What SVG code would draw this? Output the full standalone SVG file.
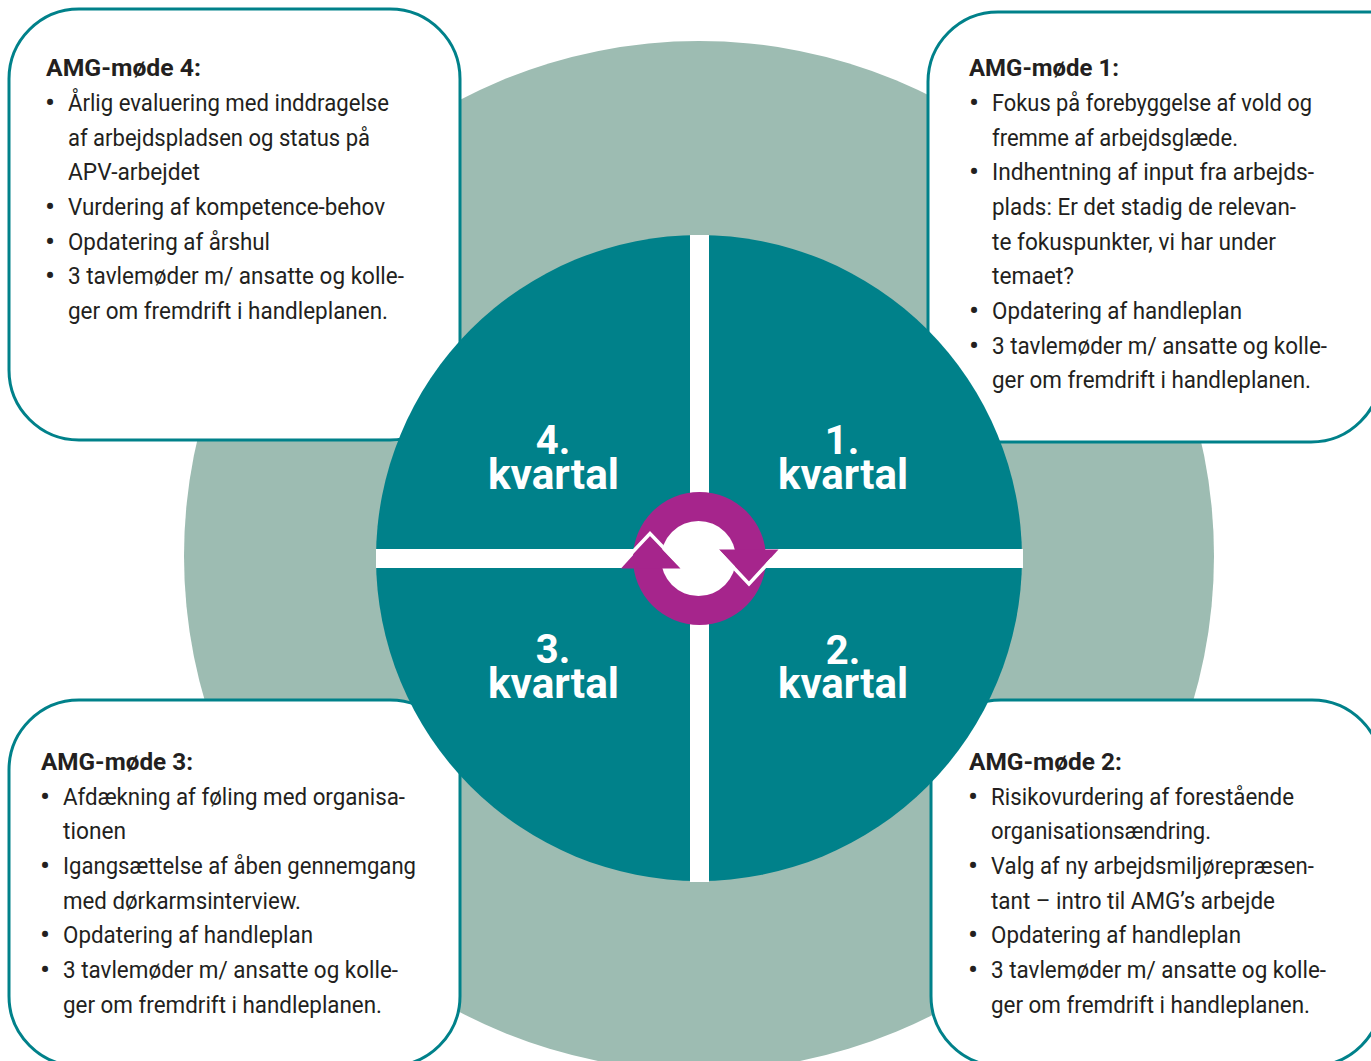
<svg xmlns="http://www.w3.org/2000/svg" width="1371" height="1061" viewBox="0 0 1371 1061">
<style>
text{font-family:"Roboto","Liberation Sans",sans-serif;fill:#231f20;font-size:23.5px}
.h{font-weight:700}
.b{text-anchor:middle;font-size:30px}
.q{font-weight:700;fill:#fff;font-size:43px}
.n{text-anchor:middle;font-size:40px}
.box{fill:#fff;stroke:#00818a;stroke-width:3}
</style>
<rect width="1371" height="1061" fill="#fff"/>
<circle id="outer-disc" cx="699" cy="556" r="515" fill="#9dbcb2"/>
<g id="box-4">
<rect class="box" x="9" y="9" width="451" height="431" rx="70"/>
<text class="h" x="46" y="76" textLength="155" lengthAdjust="spacingAndGlyphs">AMG-møde 4:</text>
<text class="b" x="50" y="113">•</text><text x="68" y="111" textLength="321" lengthAdjust="spacingAndGlyphs">Årlig evaluering med inddragelse</text>
<text x="68" y="146" textLength="302" lengthAdjust="spacingAndGlyphs">af arbejdspladsen og status på</text>
<text x="68" y="180" textLength="132" lengthAdjust="spacingAndGlyphs">APV-arbejdet</text>
<text class="b" x="50" y="217">•</text><text x="68" y="215" textLength="317" lengthAdjust="spacingAndGlyphs">Vurdering af kompetence-behov</text>
<text class="b" x="50" y="252">•</text><text x="68" y="250" textLength="202" lengthAdjust="spacingAndGlyphs">Opdatering af årshul</text>
<text class="b" x="50" y="286">•</text><text x="68" y="284" textLength="336" lengthAdjust="spacingAndGlyphs">3 tavlemøder m/ ansatte og kolle-</text>
<text x="68" y="319" textLength="320" lengthAdjust="spacingAndGlyphs">ger om fremdrift i handleplanen.</text>
</g>
<g id="box-1">
<path class="box" d="M1400 12H998A70 70 0 0 0 928 82V372A70 70 0 0 0 998 442H1311A70 70 0 0 0 1381 372V12"/>
<text class="h" x="969" y="76" textLength="150" lengthAdjust="spacingAndGlyphs">AMG-møde 1:</text>
<text class="b" x="974" y="113">•</text><text x="992" y="111" textLength="320" lengthAdjust="spacingAndGlyphs">Fokus på forebyggelse af vold og</text>
<text x="992" y="146" textLength="246" lengthAdjust="spacingAndGlyphs">fremme af arbejdsglæde.</text>
<text class="b" x="974" y="182">•</text><text x="992" y="180" textLength="322" lengthAdjust="spacingAndGlyphs">Indhentning af input fra arbejds-</text>
<text x="992" y="215" textLength="304" lengthAdjust="spacingAndGlyphs">plads: Er det stadig de relevan-</text>
<text x="992" y="250" textLength="284" lengthAdjust="spacingAndGlyphs">te fokuspunkter, vi har under</text>
<text x="992" y="284" textLength="82" lengthAdjust="spacingAndGlyphs">temaet?</text>
<text class="b" x="974" y="321">•</text><text x="992" y="319" textLength="250" lengthAdjust="spacingAndGlyphs">Opdatering af handleplan</text>
<text class="b" x="974" y="356">•</text><text x="992" y="354" textLength="335" lengthAdjust="spacingAndGlyphs">3 tavlemøder m/ ansatte og kolle-</text>
<text x="992" y="388" textLength="319" lengthAdjust="spacingAndGlyphs">ger om fremdrift i handleplanen.</text>
</g>
<g id="box-3">
<rect class="box" x="9" y="700" width="451" height="366" rx="70"/>
<text class="h" x="41" y="770" textLength="152" lengthAdjust="spacingAndGlyphs">AMG-møde 3:</text>
<text class="b" x="45" y="807">•</text><text x="63" y="805" textLength="342" lengthAdjust="spacingAndGlyphs">Afdækning af føling med organisa-</text>
<text x="63" y="839" textLength="63" lengthAdjust="spacingAndGlyphs">tionen</text>
<text class="b" x="45" y="876">•</text><text x="63" y="874" textLength="353" lengthAdjust="spacingAndGlyphs">Igangsættelse af åben gennemgang</text>
<text x="63" y="909" textLength="238" lengthAdjust="spacingAndGlyphs">med dørkarmsinterview.</text>
<text class="b" x="45" y="945">•</text><text x="63" y="943" textLength="250" lengthAdjust="spacingAndGlyphs">Opdatering af handleplan</text>
<text class="b" x="45" y="980">•</text><text x="63" y="978" textLength="335" lengthAdjust="spacingAndGlyphs">3 tavlemøder m/ ansatte og kolle-</text>
<text x="63" y="1013" textLength="319" lengthAdjust="spacingAndGlyphs">ger om fremdrift i handleplanen.</text>
</g>
<g id="box-2">
<rect class="box" x="931" y="700" width="451" height="366" rx="70"/>
<text class="h" x="969" y="770" textLength="153" lengthAdjust="spacingAndGlyphs">AMG-møde 2:</text>
<text class="b" x="973" y="807">•</text><text x="991" y="805" textLength="303" lengthAdjust="spacingAndGlyphs">Risikovurdering af forestående</text>
<text x="991" y="839" textLength="220" lengthAdjust="spacingAndGlyphs">organisationsændring.</text>
<text class="b" x="973" y="876">•</text><text x="991" y="874" textLength="323" lengthAdjust="spacingAndGlyphs">Valg af ny arbejdsmiljørepræsen-</text>
<text x="991" y="909" textLength="284" lengthAdjust="spacingAndGlyphs">tant – intro til AMG’s arbejde</text>
<text class="b" x="973" y="945">•</text><text x="991" y="943" textLength="250" lengthAdjust="spacingAndGlyphs">Opdatering af handleplan</text>
<text class="b" x="973" y="980">•</text><text x="991" y="978" textLength="335" lengthAdjust="spacingAndGlyphs">3 tavlemøder m/ ansatte og kolle-</text>
<text x="991" y="1013" textLength="319" lengthAdjust="spacingAndGlyphs">ger om fremdrift i handleplanen.</text>
</g>
<g id="quarter-wheel">
<circle cx="699" cy="558" r="323" fill="#00818a"/>
<rect x="690" y="235" width="19" height="647" fill="#fff"/>
<rect x="376" y="549" width="647" height="19" fill="#fff"/>
</g>
<g id="q4"><text class="q n" x="553" y="454">4.</text><text class="q" x="488" y="488.5" textLength="131" lengthAdjust="spacingAndGlyphs">kvartal</text></g>
<g id="q1"><text class="q n" x="842" y="454">1.</text><text class="q" x="778" y="488.5" textLength="130" lengthAdjust="spacingAndGlyphs">kvartal</text></g>
<g id="q3"><text class="q n" x="553" y="663">3.</text><text class="q" x="488" y="697.5" textLength="131" lengthAdjust="spacingAndGlyphs">kvartal</text></g>
<g id="q2"><text class="q n" x="843" y="664">2.</text><text class="q" x="778" y="697.5" textLength="130" lengthAdjust="spacingAndGlyphs">kvartal</text></g>
<g id="cycle">
<circle cx="699.5" cy="558.5" r="66.5" fill="#a6258c"/>
<circle cx="698.5" cy="558.5" r="37.5" fill="#fff"/>
<polygon points="621,568.5 650,536.5 680.5,568.5" fill="#a6258c"/>
<polyline points="627,558 650,533.5 683,568" fill="none" stroke="#fff" stroke-width="3.5"/>
<polygon points="719,549.5 778.5,549.5 749,581.5" fill="#a6258c"/>
<polyline points="716.5,549.5 749,584 772,559" fill="none" stroke="#fff" stroke-width="3.5"/>
</g>
</svg>
